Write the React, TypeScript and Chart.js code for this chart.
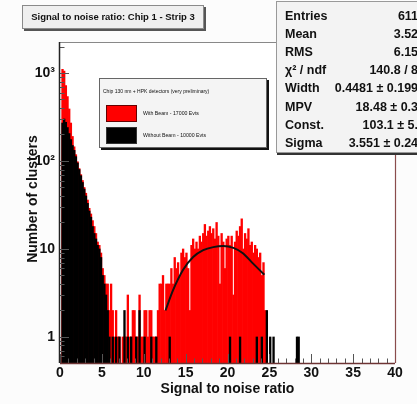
import React, { useEffect, useRef } from "react";
import { Chart, registerables } from "chart.js";
Chart.register(...registerables);

// ---- data ----
const BIN_WIDTH = 0.2;
// "With Beam - 17000 Evts" counts per 0.2-wide bin, starting at 0
const withBeam = [
  0, 1100, 1050, 720, 540, 390, 270, 190, 145, 118,
  98, 82, 70, 60, 50, 43, 36, 29, 25, 21,
  18, 15, 12, 11, 9, 6, 5, 4, 4, 2,
  4, 2, 1, 2, 1, 1, 0, 1, 1, 1,
  3, 1, 1, 2, 2, 1, 1, 3, 1, 1,
  2, 2, 1, 2, 2, 1, 1, 1, 2, 4,
  4, 5, 2, 4, 4, 4, 6, 4, 8, 6,
  7, 5, 9, 10, 8, 9, 6, 2, 11, 13,
  10, 12, 10, 14, 12, 15, 19, 14, 16, 18,
  15, 17, 13, 20, 14, 4, 15, 12, 6, 13,
  14, 11, 14, 3, 12, 16, 14, 18, 22, 10,
  15, 13, 17, 11, 12, 9, 11, 10, 8, 9,
  5, 7, 2,
];
// "Without Beam - 10000 Evts" counts per 0.2-wide bin, starting at 0
const withoutBeam = [
  0, 270, 300, 275, 240, 205, 175, 150, 132, 112,
  95, 80, 68, 57, 48, 40, 33, 27, 23, 18,
  15, 13, 11, 10, 8, 5, 4, 3, 2, 1,
  0, 1, 0, 1, 0, 1, 0, 0, 2, 0,
  1, 0, 1, 0, 0, 1, 0, 2, 0, 0,
  1, 0, 0, 0, 1, 0, 0, 1, 0, 0,
  0, 0, 0, 0, 0, 1, 0, 0, 0, 0,
  0, 0, 0, 0, 0, 0, 0, 0, 0, 0,
  0, 0, 0, 0, 0, 0, 0, 0, 0, 0,
  0, 0, 0, 0, 0, 0, 0, 0, 0, 0,
  0, 1, 0, 0, 0, 0, 0, 1, 0, 0,
  0, 0, 0, 0, 0, 0, 0, 1, 0, 0,
  1, 0, 0, 2, 0, 1, 0, 1, 0, 0,
  0, 0, 0, 0, 0, 0, 0, 0, 0, 0,
  0, 1, 1,
];
// Landau (x) Gauss fit curve
const fitX = [12.6, 13.5, 14.7, 15.9, 17.1, 18.3, 19.5, 20.7, 21.8, 23.0, 24.4];
const fitY = [2.0, 3.4, 5.8, 8.1, 9.7, 10.5, 10.8, 10.3, 9.0, 6.9, 5.1];

const xTickValues = [0, 5, 10, 15, 20, 25, 30, 35, 40];
const yTickValues = [1, 10, 100, 1000];
const yTickLabels = ["1", "10", "10²", "10³"];

const titleText = "Signal to noise ratio: Chip 1 - Strip 3";
const xTitle = "Signal to noise ratio";
const yTitle = "Number of clusters";
const legendHeader = "Chip 130 nm + HPK detectors (very preliminary)";
const legendLabels = ["With Beam - 17000 Evts", "Without Beam - 10000 Evts"];
const statLabels = ["Entries", "Mean", "RMS", "χ² / ndf", "Width", "MPV", "Const.", "Sigma"];
const statValues = ["6119", "3.523", "6.158", "140.8 / 86", "0.4481 ± 0.1993", "18.48 ± 0.35", "103.1 ± 5.6", "3.551 ± 0.248"];

const FONT = "'Liberation Sans', Arial, Helvetica, sans-serif";

const toPoints = (arr: number[]) =>
  arr.map((v, i) => ({ x: i * BIN_WIDTH + BIN_WIDTH / 2, y: v > 0 ? v : null }));

const decor = {
  id: "decor",
  beforeDraw(chart: any) {
    const { ctx, width, height, chartArea: a } = chart;
    ctx.save();
    ctx.fillStyle = "#fcfcfc";
    ctx.fillRect(0, 0, width, height);
    ctx.fillStyle = "#ffffff";
    ctx.fillRect(a.left, a.top, a.right - a.left, a.bottom - a.top);
    ctx.restore();
  },
  afterDraw(chart: any) {
    const { ctx, chartArea: a } = chart;
    const xs = chart.scales.x;
    const ys = chart.scales.y;
    ctx.save();
    // x ticks (inside, upward)
    ctx.strokeStyle = "#555";
    ctx.lineWidth = 1;
    for (let v = xs.min; v <= xs.max; v += 1) {
      const px = Math.round(xs.getPixelForValue(v)) + 0.5;
      const len = v % 5 === 0 ? 9 : 4.5;
      ctx.beginPath();
      ctx.moveTo(px, a.bottom);
      ctx.lineTo(px, a.bottom - len);
      ctx.stroke();
    }
    // y ticks (inside, rightward), log minor ticks
    for (let d = -1; d <= 3; d++) {
      for (let m = 1; m <= 9; m++) {
        const v = m * Math.pow(10, d);
        if (v < ys.min || v > ys.max) continue;
        const py = Math.round(ys.getPixelForValue(v)) + 0.5;
        const len = m === 1 ? 9 : 4.5;
        ctx.beginPath();
        ctx.moveTo(a.left, py);
        ctx.lineTo(a.left + len, py);
        ctx.stroke();
      }
    }
    // frame
    ctx.lineWidth = 1.2;
    ctx.strokeStyle = "#888";
    ctx.beginPath();
    ctx.moveTo(a.left, a.top + 0.5);
    ctx.lineTo(a.right, a.top + 0.5);
    ctx.stroke();
    ctx.strokeStyle = "#8a4c4c";
    ctx.beginPath();
    ctx.moveTo(a.right + 0.5, a.top);
    ctx.lineTo(a.right + 0.5, a.bottom);
    ctx.stroke();
    ctx.strokeStyle = "#6e3434";
    ctx.lineWidth = 1.5;
    ctx.beginPath();
    ctx.moveTo(a.left, a.bottom + 0.5);
    ctx.lineTo(a.right, a.bottom + 0.5);
    ctx.stroke();
    ctx.strokeStyle = "#222";
    ctx.beginPath();
    ctx.moveTo(a.left - 0.5, a.top);
    ctx.lineTo(a.left - 0.5, a.bottom);
    ctx.stroke();
    // axis titles
    ctx.fillStyle = "#111";
    ctx.font = `bold 14px ${FONT}`;
    ctx.textAlign = "center";
    ctx.textBaseline = "middle";
    ctx.fillText(xTitle, (a.left + a.right) / 2, 389);
    ctx.translate(33, 199);
    ctx.rotate(-Math.PI / 2);
    ctx.fillText(yTitle, 0, 0);
    ctx.restore();
  },
};

export default function App() {
  const ref = useRef<HTMLCanvasElement>(null);
  useEffect(() => {
    if (!ref.current) return;
    const chart = new Chart(ref.current, {
      type: "bar",
      data: {
        datasets: [
          {
            type: "line",
            data: fitX.map((x, i) => ({ x, y: fitY[i] })),
            borderColor: "#111",
            borderWidth: 2,
            pointRadius: 0,
            tension: 0.4,
            cubicInterpolationMode: "monotone",
            order: 0,
          } as any,
          {
            type: "bar",
            data: toPoints(withoutBeam),
            backgroundColor: "#000000",
            borderWidth: 0,
            grouped: false,
            barPercentage: 1,
            categoryPercentage: 1,
            order: 1,
          } as any,
          {
            type: "bar",
            data: toPoints(withBeam),
            backgroundColor: "#ff0000",
            borderWidth: 0,
            grouped: false,
            barPercentage: 1,
            categoryPercentage: 1,
            order: 2,
          } as any,
        ],
      },
      options: {
        animation: false,
        responsive: false,
        devicePixelRatio: 1,
        layout: { padding: { left: 0, right: 22, top: 42, bottom: 0 } },
        plugins: { legend: { display: false }, tooltip: { enabled: false } },
        scales: {
          x: {
            type: "linear",
            offset: false,
            min: 0,
            max: 40,
            grid: { display: false, drawTicks: false },
            border: { display: false },
            afterBuildTicks: (s: any) => {
              s.ticks = xTickValues.map((v) => ({ value: v }));
            },
            afterFit: (s: any) => {
              s.height = 41;
            },
            ticks: {
              autoSkip: false,
              maxRotation: 0,
              padding: 2,
              color: "#111",
              font: { family: FONT, size: 14, weight: "bold" },
              callback: (v: any) => String(v),
            },
          },
          y: {
            type: "logarithmic",
            min: 0.506,
            max: 2250,
            grid: { display: false, drawTicks: false },
            border: { display: false },
            afterBuildTicks: (s: any) => {
              s.ticks = yTickValues.map((v) => ({ value: v }));
            },
            afterFit: (s: any) => {
              s.width = 60;
            },
            ticks: {
              autoSkip: false,
              padding: 5,
              color: "#111",
              font: { family: FONT, size: 14, weight: "bold" },
              callback: (v: any) => {
                const i = yTickValues.indexOf(Number(v));
                return i >= 0 ? yTickLabels[i] : "";
              },
            },
          },
        },
      } as any,
      plugins: [decor],
    });
    return () => chart.destroy();
  }, []);

  const boxText: React.CSSProperties = {
    position: "absolute",
    fontFamily: FONT,
    fontWeight: "bold",
    color: "#111",
    whiteSpace: "nowrap",
  };

  return (
    <div
      style={{
        position: "fixed",
        left: 0,
        top: 0,
        width: 417,
        height: 404,
        overflow: "hidden",
        background: "#fcfcfc",
      }}
    >
      <canvas ref={ref} width={417} height={404} style={{ display: "block", width: 417, height: 404 }} />
      {/* title box */}
      <div
        style={{
          position: "absolute",
          left: 22,
          top: 5,
          width: 180,
          height: 22,
          background: "#efefef",
          border: "1px solid #8a8a8a",
          boxShadow: "2px 2px 0 #555",
        }}
      >
        <div style={{ ...boxText, left: 0, width: 180, top: 5, textAlign: "center", fontSize: 9.5, lineHeight: "12px" }}>
          {titleText}
        </div>
      </div>
      {/* stats box */}
      <div
        style={{
          position: "absolute",
          left: 276,
          top: 1,
          width: 170,
          height: 150,
          background: "#f3f3f3",
          border: "1px solid #999",
          boxShadow: "1px 2px 0 #333",
        }}
      >
        {statLabels.map((l, i) => (
          <React.Fragment key={l}>
            <div style={{ ...boxText, left: 8, top: 6 + i * 18.1, fontSize: 12.5, lineHeight: "16px" }}>{l}</div>
            <div
              style={{
                ...boxText,
                right: 170 - 148,
                top: 6 + i * 18.1,
                fontSize: 12.5,
                lineHeight: "16px",
                textAlign: "right",
              }}
            >
              {statValues[i]}
            </div>
          </React.Fragment>
        ))}
      </div>
      {/* legend box */}
      <div
        style={{
          position: "absolute",
          left: 99,
          top: 78,
          width: 166,
          height: 68,
          background: "#f4f4f4",
          border: "1px solid #666",
          boxShadow: "2px 2px 0 #111",
        }}
      >
        <div style={{ ...boxText, fontWeight: "normal", left: 3, top: 9, fontSize: 5, lineHeight: "6px" }}>
          {legendHeader}
        </div>
        <div style={{ position: "absolute", left: 6, top: 26, width: 29, height: 15, background: "#ff0000", border: "1px solid #600" }} />
        <div style={{ position: "absolute", left: 6, top: 48, width: 29, height: 15, background: "#000", border: "1px solid #333" }} />
        <div style={{ ...boxText, fontWeight: "normal", left: 43, top: 31, fontSize: 5.2, lineHeight: "6px" }}>
          {legendLabels[0]}
        </div>
        <div style={{ ...boxText, fontWeight: "normal", left: 43, top: 53, fontSize: 5.2, lineHeight: "6px" }}>
          {legendLabels[1]}
        </div>
      </div>
    </div>
  );
}
